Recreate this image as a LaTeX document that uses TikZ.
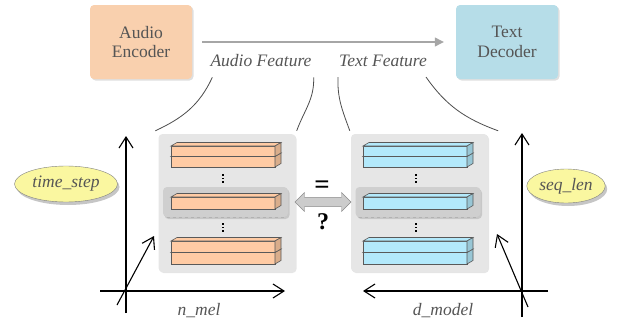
\documentclass[tikz,border=0pt]{standalone}
\usepackage{fontspec}
\setmainfont{Liberation Serif}
\usepackage{tikz}
\usetikzlibrary{arrows.meta}
\usetikzlibrary{shadows}
\usetikzlibrary{shapes.geometric}
\usetikzlibrary{shapes.arrows}
\usepackage{xcolor}
\definecolor{encpeach}{HTML}{F9D0AE}
\definecolor{decblue}{HTML}{B6DDE8}
\definecolor{melpeach}{HTML}{FFCBA4}
\definecolor{tokblue}{HTML}{B3E9FB}
\definecolor{labelgray}{HTML}{555555}
\definecolor{panelgray}{HTML}{E6E6E6}
\definecolor{rowgray}{HTML}{CFCFCF}
\definecolor{tagyellow}{HTML}{FAF7A0}

\begin{document}
\begin{tikzpicture}[x=1pt,y=1pt]
\tikzset{>={Straight Barb[length=11pt,width=14pt]}}
\tikzstyle{module}=[rounded corners=4pt,minimum width=102pt,minimum height=74pt,align=center,text=labelgray,font=\fontsize{17.5}{19.5}\selectfont,drop shadow={opacity=0.25,shadow xshift=1.5pt,shadow yshift=-1.5pt}]
\tikzstyle{feat}=[text=labelgray,font=\fontsize{17.5}{19}\selectfont\itshape,inner sep=2pt]
\tikzstyle{panel}=[rounded corners=4pt,fill=panelgray,minimum width=137pt,minimum height=138pt,drop shadow={opacity=0.2,shadow xshift=1pt,shadow yshift=-1pt}]
\tikzstyle{row}=[rounded corners=4pt,fill=rowgray,minimum width=125pt,minimum height=30pt,drop shadow={opacity=0.3,shadow xshift=1.5pt,shadow yshift=-2pt}]
\tikzstyle{tag}=[ellipse,draw=gray,fill=tagyellow,text=labelgray,font=\fontsize{17.5}{19}\selectfont\itshape,inner sep=1pt,drop shadow={opacity=0.45,shadow xshift=2pt,shadow yshift=-3pt}]
\tikzstyle{axis}=[->,line width=1.1pt]
\tikzstyle{link}=[draw=black!70,line width=0.8pt]
\tikzset{pics/slab/.style args={#1/#2}{code={
  \filldraw[fill=#1,draw=black!65,line width=0.6pt] (0,0) rectangle (104,#2);
  \filldraw[fill=#1,draw=black!65,line width=0.6pt] (0,#2) -- (6,#2+3.5) -- (110,#2+3.5) -- (104,#2) -- cycle;
  \filldraw[fill=#1!85!black,draw=black!65,line width=0.6pt] (104,0) -- (110,3.5) -- (110,#2+3.5) -- (104,#2) -- cycle;
}}}

\useasboundingbox (0,0) rectangle (622,325);

% encoder and decoder
\node[module,fill=encpeach] (enc) at (141,283) {Audio\\Encoder};
\node[module,fill=decblue] (dec) at (507,283) {Text\\Decoder};
\draw[-{Triangle[length=9pt,width=9pt]},draw=black!35,fill=black!35,line width=1.3pt] ([xshift=10pt]enc.east) -- ([xshift=-12pt]dec.west);

\node[feat] (af) at (261,264) {Audio Feature};
\node[feat] (tf) at (383,264) {Text Feature};

% feature panels
\node[panel] (melpanel) at (227,122) {};
\node[panel] (tokpanel) at (419.5,122) {};
\node[row] (melrow) at (225.5,123) {};
\node[row] (tokrow) at (418,123) {};
\draw[dashed,draw=black!30] (melrow.south west) ++(4,0.5) -- ([xshift=-4pt,yshift=0.5pt]melrow.south east);
\draw[dashed,draw=black!30] (tokrow.south west) ++(4,0.5) -- ([xshift=-4pt,yshift=0.5pt]tokrow.south east);

\pic at (171,158) {slab=melpeach/10.5};
\pic at (171,168.5) {slab=melpeach/10.5};
\pic at (171,116) {slab=melpeach/12};
\pic at (171,61) {slab=melpeach/11.5};
\pic at (171,72.5) {slab=melpeach/11.5};

\pic at (363,158) {slab=tokblue/10.5};
\pic at (363,168.5) {slab=tokblue/10.5};
\pic at (363,116) {slab=tokblue/12};
\pic at (363,61) {slab=tokblue/11.5};
\pic at (363,72.5) {slab=tokblue/11.5};

\foreach \y in {143,146.5,150,94,97.5,101}
{
  \fill (222.2,\y-0.9) rectangle ++(1.8,1.8);
  \fill (415.2,\y-0.9) rectangle ++(1.8,1.8);
}

% links from labels to panels
\draw[link] ([shift={(4,-8)}]af.south west) to[out=-115,in=25] ([shift={(-3,3)}]melpanel.north west);
\draw[link] ([shift={(0,-8)}]af.south east) to[out=-88,in=70] ([shift={(1,3)}]melpanel.north east);
\draw[link] ([shift={(1,-8)}]tf.south west) to[out=-92,in=110] ([shift={(-1,3)}]tokpanel.north west);
\draw[link] ([shift={(-3,-8)}]tf.south east) to[out=-55,in=160] ([shift={(10,3)}]tokpanel.north east);

% comparison
\node[double arrow,draw=black!45,fill=black!20,minimum height=56pt,minimum width=19pt,inner sep=3.5pt,double arrow head extend=4pt] (cmp) at (323,123) {};
\node[font=\fontsize{27}{27}\selectfont\bfseries] (eqsign) at (322,138) {=};
\node[font=\fontsize{24}{24}\selectfont\bfseries] (qmark) at (323,103) {?};

% axes
\coordinate (lo) at (126,34);
\draw[axis] (126,12) -- (126,189);
\draw[axis] (100,34) -- (285,34);
\draw[axis] (117,20) -- (154,89);
\coordinate (ro) at (522,34);
\draw[axis] (522,8) -- (522,192);
\draw[axis] (548,34) -- (363,34);
\draw[axis] (528,18) -- (497,91);

\node[tag,minimum width=103pt,minimum height=36pt] (ts) at (66,141) {time\_step};
\node[tag,minimum width=68pt,minimum height=34pt] (sl) at (566,139) {seq\_len};
\node[feat] (nmel) at (199,14) {n\_mel};
\node[feat] (dmod) at (443,14) {d\_model};
\end{tikzpicture}
\end{document}
